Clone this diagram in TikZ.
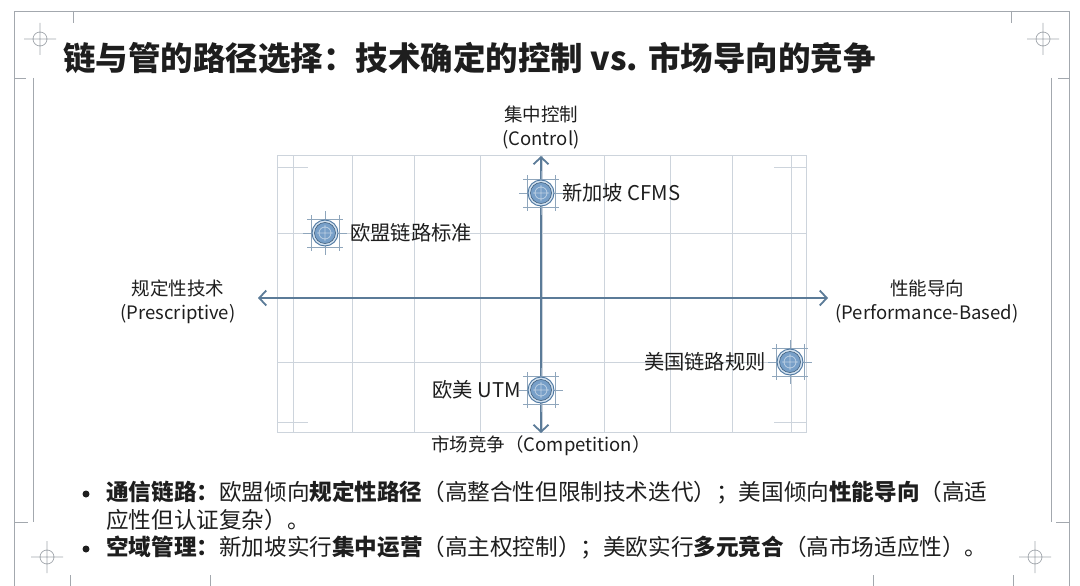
\documentclass[tikz,border=0pt]{standalone}
\usepackage{fontspec}
\setmainfont{Noto Sans CJK SC}
\usetikzlibrary{arrows.meta}
\definecolor{framec}{HTML}{A3A8AE}
\definecolor{gridc}{HTML}{CDD4DC}
\definecolor{axisc}{HTML}{5B7B98}
\definecolor{txt}{HTML}{1E1E1E}
\definecolor{mkfill}{HTML}{779FC8}
\definecolor{mkring}{HTML}{D3E2F0}
\definecolor{mkline}{HTML}{4C76A0}
\definecolor{mkgrid}{HTML}{8FA6BC}
\tikzset{
  crosshair/.pic={\draw[framec, line width=0.7pt] (0,0) circle (7pt) (-16,0) -- (16,0) (0,-16) -- (0,16);},
  marker/.pic={
    \draw[mkgrid, line width=0.7pt] (-18,-14) -- (18,-14) (-18,14) -- (18,14) (-14,-18) -- (-14,18) (14,-18) -- (14,18) (-22,0) -- (22,0) (0,-22) -- (0,22);
    \fill[mkring] (0,0) circle (13pt);
    \draw[mkline, line width=0.9pt] (0,0) circle (13pt);
    \fill[mkfill] (0,0) circle (10.5pt);
    \draw[mkline!70!black, line width=0.5pt] (0,0) circle (10.5pt);
    \draw[white!50!mkfill, line width=0.8pt] (0,0) circle (6pt) (-8,0) -- (8,0) (0,-8) -- (0,8);
  }
}
\begin{document}
\begin{tikzpicture}[x=1pt,y=-1pt,
  frameline/.style={draw=framec, line width=0.8pt},
  gridline/.style={draw=gridc, line width=0.9pt},
  axis/.style={draw=axisc, line width=1.8pt, {Straight Barb[length=7pt,width=15pt]}-{Straight Barb[length=7pt,width=15pt]}},
  lbl/.style={text=txt, font=\fontsize{20.3}{24}\selectfont, inner sep=0pt},
  axlbl/.style={text=txt, font=\fontsize{18.5}{24}\selectfont, align=center, inner sep=0pt},
  bul/.style={text=txt, font=\fontsize{22.6}{27}\selectfont, anchor=west, inner sep=0pt},
  dot/.style={circle, fill=txt, inner sep=0pt, minimum size=7pt}]
\useasboundingbox[fill=white] (0,0) rectangle (1080,586);
% page frame
\draw[frameline] (14,586) -- (14,11) -- (1069,11) -- (1069,586);
\draw[frameline] (73,11) -- (73,23) (1011,11) -- (1011,23);
\draw[frameline] (33,78) -- (33,522) (14,78) -- (26,78) (14,522) -- (28,522);
\draw[frameline] (1051,78) -- (1051,522) (1058,78) -- (1069,78) (1056,522) -- (1069,522);
\draw[frameline] (70,575) -- (70,586) (210,575) -- (210,586) (873,575) -- (873,586) (1013,575) -- (1013,586);
\pic at (40,39) {crosshair};
\pic at (1043,39) {crosshair};
\pic at (47,557) {crosshair};
\pic at (1035,557) {crosshair};
% title
\node[anchor=west, text=txt, inner sep=0pt, font=\fontsize{32.5}{36}\selectfont\bfseries] (title) at (63,58) {链与管的路径选择：技术确定的控制 vs. 市场导向的竞争};
% grid
\draw[gridline] (277,155) rectangle (806,432);
\foreach \x in {293,352,414,480,542,604,670,732,791} \draw[gridline] (\x,155) -- (\x,432);
\foreach \y in {233,298,362} \draw[gridline] (277,\y) -- (806,\y);
\draw[gridline] (277,167) -- (308,167) (774,167) -- (806,167) (277,422) -- (308,422) (774,422) -- (806,422);
% axes
\coordinate (axL) at (258,298);
\coordinate (axR) at (828,298);
\coordinate (axT) at (541,156);
\coordinate (axB) at (541,433);
\draw[axis] (axL) -- (axR);
\draw[axis] (axB) -- (axT);
% axis labels
\node[axlbl] (lTop) at (541,128) {集中控制\\(Control)};
\node[axlbl] (lLeft) at (178,302) {规定性技术\\(Prescriptive)};
\node[axlbl] (lRight) at (927,302) {性能导向\\(Performance-Based)};
\node[axlbl] (lBot) at (541,446) {市场竞争（Competition）};
% markers
\coordinate (mEU) at (325,233);
\coordinate (mSG) at (541,193);
\coordinate (mUTM) at (541,390);
\coordinate (mUS) at (790,362);
\pic at (mEU) {marker};
\pic at (mSG) {marker};
\pic at (mUTM) {marker};
\pic at (mUS) {marker};
\node[lbl, anchor=west] (tEU) at ([xshift=25pt]mEU) {欧盟链路标准};
\node[lbl, anchor=west] (tSG) at ([xshift=21pt]mSG) {新加坡 CFMS};
\node[lbl, anchor=east] (tUTM) at ([xshift=-20pt]mUTM) {欧美 UTM};
\node[lbl, anchor=east] (tUS) at ([xshift=-24pt]mUS) {美国链路规则};
% bullets
\node[dot] (d1) at (86,494) {};
\node[dot] (d2) at (86,549) {};
\node[bul] (b1) at (106,493) {\textbf{通信链路：}欧盟倾向\textbf{规定性路径}（高整合性但限制技术迭代）；美国倾向\textbf{性能导向}（高适};
\node[bul] (b2) at (106,520) {应性但认证复杂）。};
\node[bul] (b3) at (106,548) {\textbf{空域管理：}新加坡实行\textbf{集中运营}（高主权控制）；美欧实行\textbf{多元竞合}（高市场适应性）。};
\end{tikzpicture}
\end{document}
